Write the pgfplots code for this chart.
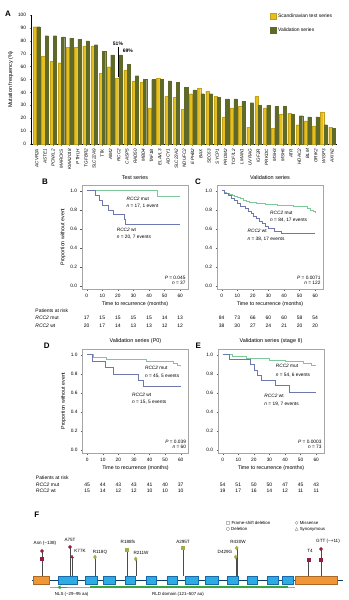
\documentclass[border=0pt]{standalone}
\usepackage{pgfplots}
\pgfplotsset{compat=1.18}
\usetikzlibrary{arrows.meta}
\usepackage{fontspec}
\setmainfont{Liberation Sans}
\newfontfamily\symfont{DejaVu Sans}
\definecolor{ycol}{RGB}{230,190,30}
\definecolor{gcol}{RGB}{95,105,42}
\definecolor{mutcol}{RGB}{125,200,155}
\definecolor{wtcol}{RGB}{108,120,175}
\definecolor{orng}{RGB}{240,150,55}
\definecolor{exblue}{RGB}{45,172,226}
\definecolor{exedge}{RGB}{25,105,170}
\definecolor{dgreen}{RGB}{60,165,60}
\definecolor{dred}{RGB}{150,30,60}
\definecolor{olv}{RGB}{165,172,70}
\newcommand{\fs}[1]{\fontsize{#1}{#1}\selectfont}
\pgfplotsset{
  km/.style={
    scale only axis, width=106bp, height=104bp,
    xmin=-3, xmax=65, ymin=-0.03, ymax=1.06,
    xtick={0,10,...,60}, ytick={0,0.2,0.4,0.6,0.8,1.0},
    tick label style={font=\fs{4.8}},
    /pgf/number format/assume math mode=true,
    tick align=outside, xtick pos=left, ytick pos=left, major tick length=1.5bp,
    axis line style={gray!70, line width=0.4pt},
    tick style={gray!70!black, line width=0.3pt},
    label style={font=\fs{5.3}},
    title style={font=\fs{5.5}, yshift=-4.5pt},
    xlabel={Time to recurrence (months)},
    xlabel style={yshift=3pt},
    ylabel style={yshift=-2pt},
    clip=false,
    yticklabel style={/pgf/number format/.cd, fixed, fixed zerofill, precision=1},
  },
  mutline/.style={const plot, mutcol, line width=0.6pt},
  wtline/.style={const plot, wtcol, line width=0.6pt},
}
\tikzset{
  ann/.style={font=\fs{4.8}, anchor=west, inner sep=0pt},
  annr/.style={font=\fs{4.8}, anchor=east, inner sep=0pt},
  risk/.style={font=\fs{5}, inner sep=0pt},
  plab/.style={font=\bfseries\fs{8}, inner sep=0pt},
  mlab/.style={font=\fs{4.6}, inner sep=0pt},
}
\newcommand{\riskrow}[8]{%
  \node[risk] at (axis cs:0,#1) {#2};
  \node[risk] at (axis cs:10,#1) {#3};
  \node[risk] at (axis cs:20,#1) {#4};
  \node[risk] at (axis cs:30,#1) {#5};
  \node[risk] at (axis cs:40,#1) {#6};
  \node[risk] at (axis cs:50,#1) {#7};
  \node[risk] at (axis cs:60,#1) {#8};
}
\newcommand{\exon}[4]{\addplot[fill=#3, draw=#4, line width=0.3pt] coordinates {(#1,-584)(#2,-584)(#2,-576)(#1,-576)} -- cycle;}
\newcommand{\stem}[2]{\addplot[gray!60!black, line width=0.3pt] coordinates {(#1,-576)(#1,#2)};}
\begin{document}
\begin{tikzpicture}
\path[use as bounding box] (0,0) rectangle (349bp,-600bp);
% ---------- Panel A ----------
\begin{axis}[
  at={(31bp,-144bp)}, anchor=south west,
  scale only axis, width=306bp, height=129bp,
  ybar=0.3bp, bar width=3.2bp,
  xmin=0.3, xmax=37.6, ymin=0, ymax=100,
  axis lines*=left,
  xtick={1,...,37},
  xticklabels={ACVR2A,ASTE1,PCNXL2,MARCKS,KIAA2018,PTHLH,TGFBR2,SLC22A9,TTK,AIM2,RCC2,CASP5,RAD50,MBD4,TAF1B,ELAVL3,ADCY1,SLC23A2,NDUFC2,EPHB2,BAX,SEC63,SYCP1,PRDM2,TCF7L2,LMAN1,UVRAG,IGF2R,PRKDC,MSH3,MSH6,ATR,HDAC2,BLM,GRIK2,WISP3,AXIN2},
  x tick label style={rotate=90, anchor=east, font=\fs{4.6}\itshape},
  ytick={0,10,...,100},
  y tick label style={font=\fs{4.8}},
  /pgf/number format/assume math mode=true,
  tick align=outside, major tick length=1.5bp,
  tick style={line width=0.3pt},
  axis line style={line width=0.4pt},
  ylabel={Mutation frequency (\%)}, ylabel style={font=\fs{5.5}, yshift=-2pt},
  legend style={at={(0.78,1.025)}, anchor=north west, draw=none, fill=none, font=\fs{5}, row sep=5pt, inner sep=0pt},
  legend cell align=left,
  legend image code/.code={\draw[#1] (0bp,-2.5bp) rectangle (6bp,3bp);},
  clip=false,
]
\addplot[fill=ycol, draw=ycol!85!black, line width=0.2pt] coordinates {
(1,91)(2,68)(3,64)(4,63)(5,75)(6,75)(7,76)(8,76)(9,55)(10,60)(11,51)(12,57)(13,49)(14,48)(15,28)(16,51)(17,37)(18,36)(19,27)(20,39)(21,43)(22,41)(23,37)(24,21)(25,28)(26,29)(27,13)(28,37)(29,28)(30,12)(31,23)(32,24)(33,15)(34,18)(35,14)(36,25)(37,13)};
\addplot[fill=gcol, draw=gcol, line width=0.2pt] coordinates {
(1,91)(2,84)(3,84)(4,83)(5,82)(6,81)(7,80)(8,77)(9,72)(10,69)(11,69)(12,62)(13,53)(14,50)(15,50)(16,50)(17,49)(18,48)(19,44)(20,42)(21,39)(22,39)(23,36)(24,35)(25,35)(26,33)(27,32)(28,30)(29,30)(30,29)(31,29)(32,23)(33,22)(34,21)(35,21)(36,15)(37,12)};
\legend{Scandinavian test series, Validation series}
\draw[black, line width=0.3pt] (axis cs:10.9,52) -- (axis cs:10.9,75);
\node[font=\bfseries\fs{5}] at (axis cs:10.9,78) {51\%};
\node[font=\bfseries\fs{5}] at (axis cs:12.1,72) {69\%};
\end{axis}
% ---------- Panel B ----------
\begin{axis}[km, at={(82bp,-289bp)}, anchor=south west, title={Test series}, ylabel={Proportion without event}]
\addplot[mutline] coordinates {(0,1)(45,0.94)(60,0.94)};
\addplot[wtline] coordinates {(0,1)(5.5,0.95)(8,0.9)(10,0.85)(14,0.8)(17,0.75)(24,0.7)(25,0.65)(60,0.65)};
\node[ann] at (axis cs:25.5,0.92) {\textit{RCC2} mut};
\node[ann] at (axis cs:25.5,0.84) {\textit{n} = 17, 1 event};
\node[ann] at (axis cs:19.2,0.59) {\textit{RCC2} wt};
\node[ann] at (axis cs:19.2,0.51) {\textit{n} = 20, 7 events};
\node[annr] at (axis cs:63.5,0.085) {\textit{P} = 0.045};
\node[annr] at (axis cs:63.5,0.03) {\textit{n} = 37};
\node[risk, anchor=west] at (axis cs:-33,-0.258) {Patients at risk};
\node[risk, anchor=west] at (axis cs:-33,-0.335) {\textit{RCC2} mut};
\node[risk, anchor=west] at (axis cs:-33,-0.415) {\textit{RCC2} wt};
\riskrow{-0.335}{17}{15}{15}{15}{15}{14}{13}
\riskrow{-0.415}{20}{17}{14}{13}{13}{12}{12}
\end{axis}
% ---------- Panel C ----------
\begin{axis}[km, at={(217bp,-289bp)}, anchor=south west, title={Validation series}]
\addplot[mutline] coordinates {(0,1)(1.5,0.988)(3,0.976)(5,0.964)(6.5,0.952)(8,0.94)(10,0.928)(12,0.916)(14,0.904)(16,0.892)(18,0.88)(22,0.868)(28,0.856)(36,0.844)(46,0.832)(55,0.82)(57,0.80)(58.5,0.78)(60,0.77)};
\addplot[wtline] coordinates {(0,1)(2,0.974)(4,0.947)(6,0.921)(8,0.895)(10,0.868)(12,0.842)(15,0.816)(17,0.789)(19,0.763)(20,0.737)(22,0.711)(24,0.684)(26,0.658)(28,0.632)(30,0.605)(34,0.579)(38,0.553)(60,0.553)};
\node[ann] at (axis cs:31,0.766) {\textit{RCC2} mut};
\node[ann] at (axis cs:31,0.69) {\textit{n} = 84, 17 events};
\node[ann] at (axis cs:16.5,0.575) {\textit{RCC2} wt};
\node[ann] at (axis cs:16.5,0.497) {\textit{n} = 38, 17 events};
\node[annr] at (axis cs:63.5,0.085) {\textit{P} = 0.0071};
\node[annr] at (axis cs:63.5,0.03) {\textit{n} = 122};
\riskrow{-0.335}{84}{73}{66}{60}{60}{58}{54}
\riskrow{-0.415}{38}{30}{27}{24}{21}{20}{20}
\end{axis}
% ---------- Panel D ----------
\begin{axis}[km, at={(82.5bp,-453bp)}, anchor=south west, title={Validation series (P0)}, ylabel={Proportion without event}]
\addplot[mutline] coordinates {(0,1)(4,0.978)(12,0.956)(38,0.933)(55,0.91)(58,0.888)(60,0.888)};
\addplot[wtline] coordinates {(0,1)(3.5,0.933)(11.5,0.867)(17,0.8)(33,0.733)(36,0.667)(60,0.667)};
\node[ann] at (axis cs:37,0.86) {\textit{RCC2} mut};
\node[ann] at (axis cs:37,0.78) {\textit{n} = 45, 5 events};
\node[ann] at (axis cs:28.7,0.579) {\textit{RCC2} wt};
\node[ann] at (axis cs:28.7,0.50) {\textit{n} = 15, 5 events};
\node[annr] at (axis cs:63.5,0.085) {\textit{P} = 0.039};
\node[annr] at (axis cs:63.5,0.03) {\textit{n} = 60};
\node[risk, anchor=west] at (axis cs:-33,-0.287) {Patients at risk};
\node[risk, anchor=west] at (axis cs:-33,-0.36) {\textit{RCC2} mut};
\node[risk, anchor=west] at (axis cs:-33,-0.43) {\textit{RCC2} wt};
\riskrow{-0.36}{45}{44}{43}{43}{41}{40}{37}
\riskrow{-0.43}{15}{14}{12}{12}{10}{10}{10}
\end{axis}
% ---------- Panel E ----------
\begin{axis}[km, at={(218bp,-453bp)}, anchor=south west, title={Validation series (stage II)}]
\addplot[mutline] coordinates {(0,1)(6,0.981)(15,0.963)(30,0.944)(40,0.926)(52,0.907)(57,0.889)(60,0.889)};
\addplot[wtline] coordinates {(0,1)(4,0.947)(18,0.895)(20,0.842)(22,0.789)(25,0.737)(34,0.684)(43,0.61)(60,0.61)};
\node[ann] at (axis cs:34,0.879) {\textit{RCC2} mut};
\node[ann] at (axis cs:34,0.785) {\textit{n} = 54, 6 events};
\node[ann] at (axis cs:26.7,0.564) {\textit{RCC2} wt};
\node[ann] at (axis cs:26.7,0.48) {\textit{n} = 19, 7 events};
\node[annr] at (axis cs:63.5,0.085) {\textit{P} = 0.0003};
\node[annr] at (axis cs:63.5,0.03) {\textit{n} = 73};
\riskrow{-0.36}{54}{51}{50}{50}{47}{45}{43}
\riskrow{-0.43}{19}{17}{16}{14}{12}{11}{11}
\end{axis}
% ---------- Panel F ----------
\begin{axis}[at={(0bp,-600bp)}, anchor=south west, scale only axis, width=349bp, height=100bp,
  xmin=0, xmax=349, ymin=-600, ymax=-500, hide axis, clip=false]
\addplot[exedge!60!black, line width=0.5pt] coordinates {(32,-580)(343,-580)};
\exon{33.3}{49.3}{orng}{orng!70!black}
\exon{58.3}{76.7}{exblue}{exedge}
\exon{85}{96.7}{exblue}{exedge}
\exon{103.3}{115}{exblue}{exedge}
\exon{125}{135}{exblue}{exedge}
\exon{146}{156}{exblue}{exedge}
\exon{166.7}{176.7}{exblue}{exedge}
\exon{185}{198.3}{exblue}{exedge}
\exon{205}{218.3}{exblue}{exedge}
\exon{226.7}{238.3}{exblue}{exedge}
\exon{246.7}{256.7}{exblue}{exedge}
\exon{266.7}{278.3}{exblue}{exedge}
\exon{281.7}{293.3}{exblue}{exedge}
\exon{295}{336.7}{orng}{orng!70!black}
% stems
\stem{42}{-551}
\stem{70}{-547}
\stem{72}{-557}
\stem{95}{-557}
\stem{127}{-550}
\stem{135.7}{-559}
\stem{182.7}{-548}
\stem{235.7}{-557}
\stem{236.7}{-548}
\stem{308.3}{-560}
\stem{321}{-549}
% markers
\addplot[only marks, mark=square*, mark size=1.6bp, dred] coordinates {(42,-559)(308.3,-560)(321,-560)};
\addplot[only marks, mark=*, mark size=1.6bp, dred] coordinates {(42,-551)(70,-547)(321,-549)};
\addplot[only marks, mark=triangle*, mark size=1.8bp, dred] coordinates {(72,-557)};
\addplot[only marks, mark=diamond*, mark size=2bp, olv] coordinates {(95,-557)(135.7,-559)(235.7,-557)(236.7,-548)};
\addplot[only marks, mark=square*, mark size=1.6bp, olv] coordinates {(127,-550)(182.7,-548)};
% mutation labels
\node[mlab] at (axis cs:45,-543) {Asn (\textasciitilde138)};
\node[mlab] at (axis cs:70,-539.5) {A75T};
\node[mlab] at (axis cs:80,-550.5) {K77K};
\node[mlab] at (axis cs:100,-552) {R118Q};
\node[mlab] at (axis cs:128,-541.5) {R188fs};
\node[mlab] at (axis cs:141,-552.5) {R211W};
\node[mlab] at (axis cs:183,-541.5) {A295T};
\node[mlab] at (axis cs:225,-552.3) {D429G};
\node[mlab] at (axis cs:238,-541.5) {R430W};
\node[mlab] at (axis cs:310,-550.5) {T4};
\node[mlab] at (axis cs:328,-541) {GTT (\textasciitilde+11)};
% domains
\addplot[gray!70, line width=0.4pt] coordinates {(50,-587.3)(295,-587.3)};
\addplot[dgreen, line width=2.2bp] coordinates {(90,-587.3)(288,-587.3)};
\addplot[dgreen, line width=1.6bp, {Latex[length=3.5bp,width=4bp]}-] coordinates {(57,-587.3)(67,-587.3)};
\node[font=\fs{4.4}, inner sep=0pt] at (axis cs:71.7,-594) {NLS (\textasciitilde29--95 aa)};
\node[font=\fs{4.4}, inner sep=0pt] at (axis cs:178,-594) {RLD domain (121--507 aa)};
% legend
\node[font=\fs{4.4}, anchor=west, inner sep=0pt] at (axis cs:226,-523) {{\symfont □} Frame-shift deletion};
\node[font=\fs{4.4}, anchor=west, inner sep=0pt] at (axis cs:295,-523) {{\symfont ◇} Missense};
\node[font=\fs{4.4}, anchor=west, inner sep=0pt] at (axis cs:226,-529) {{\symfont ○} Deletion};
\node[font=\fs{4.4}, anchor=west, inner sep=0pt] at (axis cs:295,-529) {{\symfont △} Synonymous};
\end{axis}
% panel letters
\node[plab] at (8bp,-14bp) {A};
\node[plab] at (45bp,-182bp) {B};
\node[plab] at (198bp,-182bp) {C};
\node[plab] at (46.7bp,-345.7bp) {D};
\node[plab] at (198.3bp,-346bp) {E};
\node[plab] at (36.7bp,-515bp) {F};
\end{tikzpicture}
\end{document}
